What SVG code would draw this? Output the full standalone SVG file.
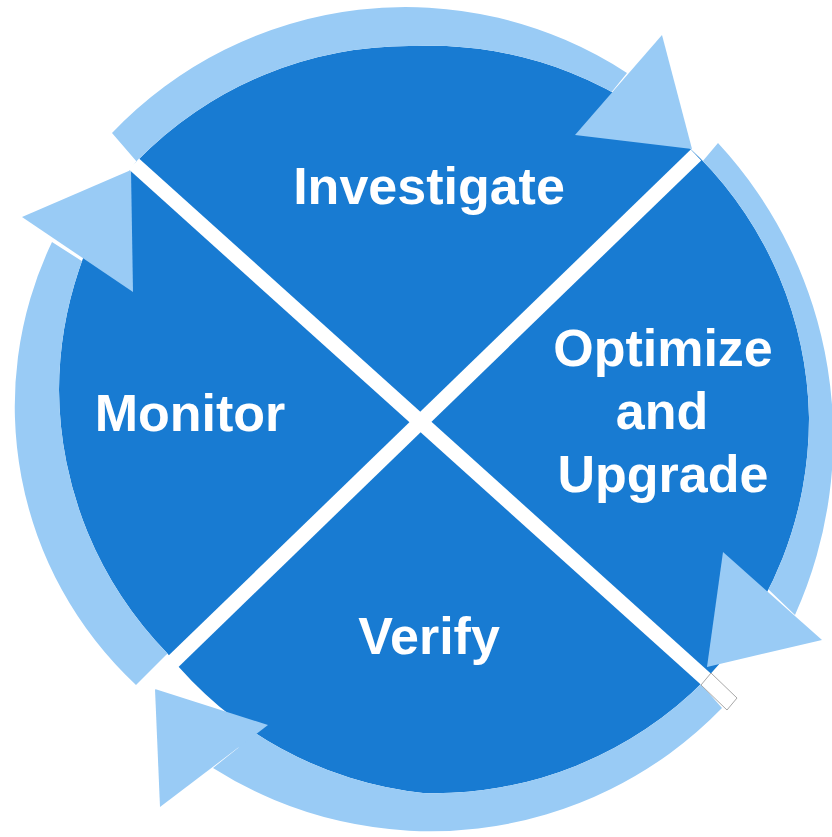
<svg xmlns="http://www.w3.org/2000/svg" xmlns:xlink="http://www.w3.org/1999/xlink" width="832" height="837" viewBox="0 0 832 837">
<style>
.disc{fill:#187BD2;}
.shaft{fill:#99CBF5;}
.head{fill:#99CBF5;}
.divider{stroke:#FFFFFF;stroke-width:15;stroke-linecap:butt;fill:none;}
.tab{fill:#FFFFFF;stroke:#A8A8A8;stroke-width:1;}
.label{fill:#FFFFFF;font-family:"Liberation Sans",Arial,sans-serif;font-weight:bold;font-size:52px;text-anchor:middle;}
</style>
<defs>
<path id="discShape" d="M136,162 A380,380 0 0 1 417,46 A380,380 0 0 1 700,158 A380,380 0 0 1 809,417 A380,380 0 0 1 706,679 A380,380 0 0 1 423,793 A380,380 0 0 1 167,653 A380,380 0 0 1 59,390 A380,380 0 0 1 136,162 Z"/>
<mask id="outside" maskUnits="userSpaceOnUse" x="0" y="0" width="832" height="837">
<rect x="0" y="0" width="832" height="837" fill="#FFFFFF"/>
<use xlink:href="#discShape" fill="#000000"/>
</mask>
</defs>
<rect x="0" y="0" width="832" height="837" fill="#FFFFFF"/>
<g id="disc">
<use xlink:href="#discShape" class="disc"/>
</g>
<g id="connectors">
<g id="arrow-investigate-optimize">
<path class="shaft" mask="url(#outside)" d="M418,421 L137,162 L112,133 A405,405 0 0 1 627,73 L610,94 Z"/>
<polygon class="head" points="662,35 692,149 575,135"/>
</g>
<g id="arrow-optimize-verify">
<path class="shaft" mask="url(#outside)" d="M418,421 L702,162 L718,143 A433,433 0 0 1 795,615 L767,588 Z"/>
<polygon class="head" points="822,640 707,667 723,552"/>
</g>
<g id="arrow-verify-monitor">
<path class="shaft" mask="url(#outside)" d="M418,421 L700,683 L722,708 A406,406 0 0 1 213,768 L238,748 Z"/>
<polygon class="head" points="160,807 155,689 268,725"/>
</g>
<g id="arrow-monitor-investigate">
<path class="shaft" mask="url(#outside)" d="M418,421 L166,655 L136,685 A381,381 0 0 1 52,242 L88,265 Z"/>
<polygon class="head" points="22,217 131,170 133,292"/>
</g>
</g>
<g id="dividers">
<line class="divider" x1="134" y1="164" x2="708" y2="681"/>
<polygon class="tab" points="711,673 737,698 727,710 701,685"/>
<line class="divider" x1="696" y1="155" x2="149" y2="685"/>
</g>
<g id="node-investigate"><text class="label" x="429" y="204">Investigate</text></g>
<g id="node-optimize"><text class="label" x="663" y="366">Optimize</text><text class="label" x="662" y="429">and</text><text class="label" x="663" y="492">Upgrade</text></g>
<g id="node-verify"><text class="label" x="429" y="654">Verify</text></g>
<g id="node-monitor"><text class="label" x="190" y="431">Monitor</text></g>
</svg>
